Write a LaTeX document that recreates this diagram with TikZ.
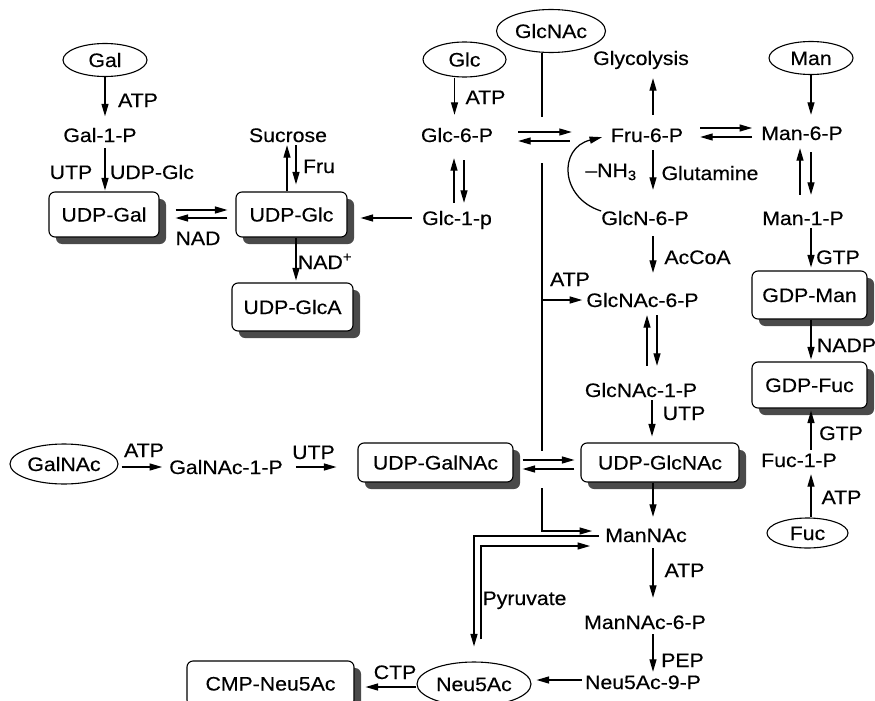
\documentclass[tikz,border=0pt]{standalone}
\usepackage{fontspec}
\setmainfont{Liberation Sans}[FakeStretch=1.09,FakeBold=0.4]
\usetikzlibrary{arrows.meta,shapes.geometric,shadows}
\definecolor{shadowc}{HTML}{4A4A4A}
\begin{document}
\begin{tikzpicture}[x=1pt,y=-1pt,
  every node/.style={font=\fontsize{19.5}{23}\selectfont, inner sep=0pt, text height=14pt, text depth=0pt},
  ell/.style 2 args={ellipse, draw, line width=1.1pt, minimum width=#1, minimum height=#2},
  pbox/.style 2 args={rectangle, rounded corners=6pt, draw, line width=1.1pt, fill=white,
     minimum width=#1, minimum height=#2,
     drop shadow={shadow xshift=7pt, shadow yshift=-7pt, fill=shadowc, opacity=1}},
  ln/.style={line width=1.25pt},
  arr/.style={line width=1.25pt, -{Triangle[length=12.5pt,width=7pt]}}
]
\useasboundingbox (0,0) rectangle (875,701);
\clip (0,0) rectangle (875,701);

% ---- metabolites ----
\node[ell={84pt}{33pt}] (gal) at (105,60) {Gal};
\node (gal1p) at (100,135) {Gal-1-P};
\node[pbox={110pt}{45pt}] (udpgal) at (104,214.5) {UDP-Gal};
\node[pbox={111pt}{45pt}] (udpglc) at (291.5,214.5) {UDP-Glc};
\node (sucrose) at (288,135) {Sucrose};
\node[pbox={121pt}{48pt}] (udpglca) at (292.5,307) {UDP-GlcA};
\node[ell={83pt}{35pt}] (glc) at (464.5,59.5) {Glc};
\node (glc6p) at (457,135) {Glc-6-P};
\node (glc1p) at (457,218) {Glc-1-p};
\node[ell={109pt}{43pt}] (glcnac) at (551,31) {GlcNAc};
\node (glycolysis) at (641,58) {Glycolysis};
\node (fru6p) at (647,135) {Fru-6-P};
\node[ell={84pt}{33pt}] (man) at (811,58) {Man};
\node (man6p) at (802,133) {Man-6-P};
\node (man1p) at (803,218) {Man-1-P};
\node (glcn6p) at (645,218) {GlcN-6-P};
\node (glcnac6p) at (642.5,300) {GlcNAc-6-P};
\node (glcnac1p) at (641,390) {GlcNAc-1-P};
\node[pbox={158pt}{39pt}] (udpglcnac) at (660,462.5) {UDP-GlcNAc};
\node[pbox={155pt}{39pt}] (udpgalnac) at (435.5,462.5) {UDP-GalNAc};
\node[ell={108pt}{40pt}] (galnac) at (64,464) {GalNAc};
\node (galnac1p) at (226,467) {GalNAc-1-P};
\node (mannac) at (646,535) {ManNAc};
\node (mannac6p) at (645,622) {ManNAc-6-P};
\node (neu5ac9p) at (643,682) {Neu5Ac-9-P};
\node[ell={114pt}{44pt}] (neu5ac) at (474,684) {Neu5Ac};
\node[pbox={167pt}{45pt}] (cmp) at (270.5,683.5) {CMP-Neu5Ac};
\node[pbox={115pt}{48pt}] (gdpman) at (809.5,295) {GDP-Man};
\node[pbox={115pt}{46pt}] (gdpfuc) at (809.5,385) {GDP-Fuc};
\node (fuc1p) at (799,460) {Fuc-1-P};
\node[ell={81pt}{30pt}] (fuc) at (807.5,533) {Fuc};

% ---- cofactor labels ----
\node (l1) at (138,100) {ATP};
\node (l2) at (71,172) {UTP};
\node (l3) at (152,172) {UDP-Glc};
\node (l4) at (198,238) {NAD};
\node (l5) at (319,166) {Fru};
\node (l6) at (325,262) {NAD\textsuperscript{+}};
\node (l7) at (485.5,97) {ATP};
\node (l8) at (570,279) {ATP};
\node (l9) at (611,170) {–NH\textsubscript{3}};
\node (l10) at (710,173) {Glutamine};
\node (l11) at (697.5,257) {AcCoA};
\node (l12) at (684,413) {UTP};
\node (l13) at (838,257) {GTP};
\node (l14) at (846.5,345) {NADP};
\node (l15) at (841,433) {GTP};
\node (l16) at (841.5,497) {ATP};
\node (l17) at (144,450) {ATP};
\node (l18) at (313.5,452) {UTP};
\node (l19) at (684.5,570) {ATP};
\node (l20) at (682.5,660) {PEP};
\node (l21) at (524.5,598) {Pyruvate};
\node (l22) at (395,672) {CTP};

% ---- Gal branch ----
\draw[arr,shorten >=11.5pt] (gal.south) -- (gal.south |- gal1p.north);
\draw[arr,shorten <=6pt,shorten >=1pt] ([xshift=5pt]gal1p.south) -- ([xshift=5pt]gal1p.south |- udpgal.north);
\draw[arr,shorten <=16pt,shorten >=8pt] ([yshift=4.5pt]udpgal.east) -- ([yshift=4.5pt]udpglc.west);
\draw[arr,shorten <=8pt,shorten >=16pt] ([yshift=-3.5pt]udpglc.west) -- ([yshift=-3.5pt]udpgal.east);
\draw[arr,shorten >=3pt] ([xshift=-4.5pt]udpglc.north) -- ([xshift=-4.5pt]udpglc.north |- sucrose.south);
\draw[arr,shorten <=3pt,shorten >=7pt] ([xshift=4.5pt]udpglc.north |- sucrose.south) -- ([xshift=4.5pt]udpglc.north);
\draw[arr,shorten >=2pt] ([xshift=4.5pt]udpglc.south) -- ([xshift=4.5pt]udpglc.south |- udpglca.north);
\draw[arr,shorten <=10pt,shorten >=13pt] (glc1p.west) -- (glc1p.west -| udpglc.east);

% ---- Glc branch ----
\draw[arr,shorten >=13pt] ([xshift=-10pt]glc.south) -- ([xshift=-10pt]glc.south |- glc6p.north);
\draw[arr,shorten <=8pt,shorten >=16pt] ([xshift=-3pt]glc6p.south |- glc1p.north) -- ([xshift=-3pt]glc6p.south);
\draw[arr,shorten <=18pt,shorten >=8pt] ([xshift=7pt]glc6p.south) -- ([xshift=7pt]glc6p.south |- glc1p.north);
\draw[arr,shorten <=25pt,shorten >=39pt] ([yshift=3pt]glc6p.east) -- ([yshift=3pt]glc6p.east -| fru6p.west);
\draw[arr,shorten <=41pt,shorten >=25pt] ([yshift=-6pt]glc6p.east -| fru6p.west) -- ([yshift=-6pt]glc6p.east);

% ---- GlcNAc trunk ----
\coordinate (v1) at (542,117);
\coordinate (v2) at (542,163);
\coordinate (v3) at (542,451);
\coordinate (v4) at (542,488);
\coordinate (vb) at (542,300);
\coordinate (vm) at (542,531);
\draw[ln] ([xshift=-9pt]glcnac.south) -- (v1);
\draw[ln] (v2) -- (v3);
\draw[arr,shorten >=4pt] (vb) -- (vb -| glcnac6p.west);
\draw[arr,shorten >=13pt] (v4) -- (vm) -- (vm -| mannac.west);

% ---- Fru / Man ----
\draw[arr,shorten <=13pt,shorten >=13pt] ([xshift=6pt]fru6p.north) -- ([xshift=6pt]fru6p.north |- glycolysis.south);
\draw[arr,shorten <=17pt,shorten >=9pt] ([yshift=5pt]man6p.west -| fru6p.east) -- ([yshift=5pt]man6p.west);
\draw[arr,shorten <=9pt,shorten >=17pt] ([yshift=-4pt]man6p.west) -- ([yshift=-4pt]man6p.west -| fru6p.east);
\draw[arr,shorten >=11pt] (man.south) -- (man.south |- man6p.north);
\draw[arr,shorten <=16pt,shorten >=8pt] ([xshift=-2pt]man6p.south |- man1p.north) -- ([xshift=-2pt]man6p.south);
\draw[arr,shorten <=12pt,shorten >=16pt] ([xshift=9pt]man6p.south) -- ([xshift=9pt]man6p.south |- man1p.north);
\draw[arr,shorten <=3pt,shorten >=3pt] ([xshift=8pt]man1p.south) -- ([xshift=8pt]man1p.south |- gdpman.north);
\draw[arr,shorten >=2pt] ([xshift=1.5pt]gdpman.south) -- ([xshift=1.5pt]gdpman.south |- gdpfuc.north);
\draw[arr,shorten <=3pt,shorten >=2pt] ([xshift=12pt]fuc1p.north) -- ([xshift=12pt]fuc1p.north |- gdpfuc.south);
\draw[arr,shorten >=7pt] ([xshift=3.5pt]fuc.north) -- ([xshift=3.5pt]fuc.north |- fuc1p.south);

% ---- hexosamine ----
\draw[arr,shorten <=8pt,shorten >=21pt] ([xshift=6pt]fru6p.south) -- ([xshift=6pt]fru6p.south |- glcn6p.north);
\draw[arr,shorten >=9pt] ([yshift=7pt]glcn6p.west) .. controls (560,198) and (558,148) .. (fru6p.west);
\draw[arr,shorten <=11pt,shorten >=20pt] ([xshift=8pt]glcn6p.south) -- ([xshift=8pt]glcn6p.south |- glcnac6p.north);
\draw[arr,shorten <=17pt,shorten >=8pt] ([xshift=4.5pt]glcnac6p.south |- glcnac1p.north) -- ([xshift=4.5pt]glcnac6p.south);
\draw[arr,shorten <=8pt,shorten >=17pt] ([xshift=14.5pt]glcnac6p.south) -- ([xshift=14.5pt]glcnac6p.south |- glcnac1p.north);
\draw[arr,shorten <=3pt,shorten >=6pt] ([xshift=11pt]glcnac1p.south) -- ([xshift=11pt]glcnac1p.south |- udpglcnac.north);
\draw[arr,shorten <=9pt,shorten >=6pt] ([yshift=2.5pt]udpgalnac.east) -- ([yshift=2.5pt]udpglcnac.west);
\draw[arr,shorten <=6pt,shorten >=9pt] ([yshift=-6.5pt]udpglcnac.west) -- ([yshift=-6.5pt]udpgalnac.east);

% ---- GalNAc ----
\draw[arr,shorten <=3pt,shorten >=7pt] (galnac.east |- galnac1p.west) -- (galnac1p.west);
\draw[arr,shorten <=13pt,shorten >=21pt] (galnac1p.east) -- (galnac1p.east -| udpgalnac.west);

% ---- sialic acid ----
\draw[arr,shorten >=11pt] ([xshift=-7pt]udpglcnac.south) -- ([xshift=-7pt]udpglcnac.south |- mannac.north);
\draw[arr,shorten <=6pt,shorten >=15pt] ([yshift=-1pt]mannac.west) -| (neu5ac.north);
\draw[arr,shorten <=22pt,shorten >=15pt] ([xshift=7pt]neu5ac.north) |- ([yshift=-11pt]mannac.west);
\draw[arr,shorten <=6pt,shorten >=17pt] ([xshift=7pt]mannac.south) -- ([xshift=7pt]mannac.south |- mannac6p.north);
\draw[arr,shorten <=5pt,shorten >=3pt] ([xshift=8pt]mannac6p.south) -- ([xshift=8pt]mannac6p.south |- neu5ac9p.north);
\draw[arr,shorten <=3pt,shorten >=5pt] ([yshift=2pt]neu5ac9p.west) -- ([yshift=2pt]neu5ac9p.west -| neu5ac.east);
\draw[arr,shorten >=11pt] ([yshift=-3pt]neu5ac.west) -- ([yshift=-3pt]neu5ac.west -| cmp.east);
\end{tikzpicture}
\end{document}
